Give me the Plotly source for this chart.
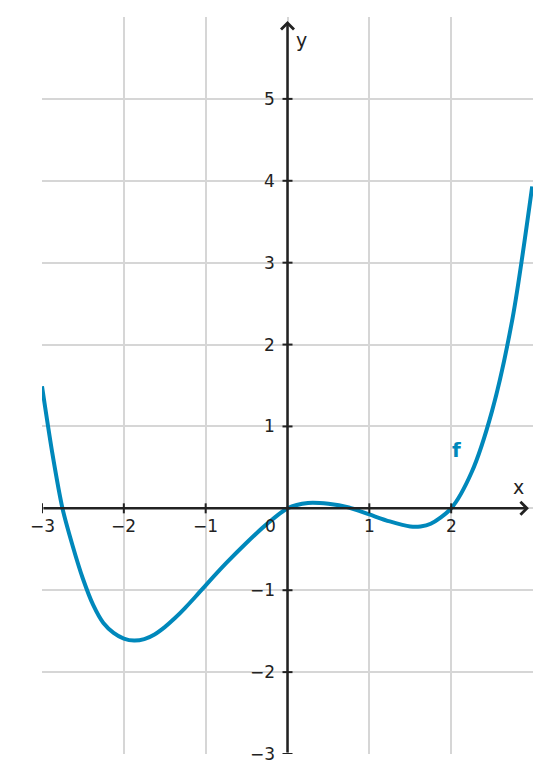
import plotly.graph_objects as go

# curve f
fx = [-3.0, -2.875, -2.75, -2.625, -2.5, -2.375, -2.25, -2.125, -2.0, -1.875, -1.75, -1.625, -1.5, -1.375,
      -1.25, -1.125, -1.0, -0.75, -0.5, -0.25, 0.0, 0.25, 0.5, 0.75, 1.0, 1.25, 1.5, 1.625, 1.75, 2.0,
      2.25, 2.5, 2.75, 2.99]
fy = [1.49, 0.68, 0.0, -0.46, -0.86, -1.18, -1.40, -1.52, -1.59, -1.615, -1.597, -1.54, -1.45, -1.34,
      -1.215, -1.08, -0.94, -0.67, -0.42, -0.19, 0.0, 0.065, 0.055, 0.01, -0.075, -0.16, -0.222, -0.222, -0.188, 0.0,
      0.44, 1.19, 2.32, 3.93]

x_ticks = [-3, -2, -1, 1, 2]
x_tick_labels = ["−3", "−2", "−1", "1", "2"]
y_ticks = [-3, -2, -1, 1, 2, 3, 4, 5]
y_tick_labels = ["−3", "−2", "−1", "1", "2", "3", "4", "5"]

AX = "#222222"
BLUE = "#0088bb"
FONT = "DejaVu Sans"

fig = go.Figure()
fig.add_trace(go.Scatter(x=fx, y=fy, mode="lines",
                         line=dict(color=BLUE, width=4, shape="spline", smoothing=0.8),
                         hoverinfo="skip", showlegend=False))

shapes = []
annotations = []

# axes with arrows
annotations.append(dict(x=2.95, y=0, ax=-3, ay=0, xref="x", yref="y", axref="x", ayref="y",
                        text="", showarrow=True, arrowhead=4, arrowsize=1.0, arrowwidth=2.5,
                        arrowcolor=AX, standoff=0, startstandoff=0))
annotations.append(dict(x=0, y=5.95, ax=0, ay=-3, xref="x", yref="y", axref="x", ayref="y",
                        text="", showarrow=True, arrowhead=4, arrowsize=1.0, arrowwidth=2.5,
                        arrowcolor=AX, standoff=0, startstandoff=0))

# ticks and labels
for t, lab in zip(x_ticks, x_tick_labels):
    shapes.append(dict(type="line", xref="x", yref="y", ysizemode="pixel", yanchor=0,
                       x0=t, x1=t, y0=-5, y1=5, line=dict(color=AX, width=2)))
    annotations.append(dict(x=t, y=0, xref="x", yref="y", text=lab, showarrow=False,
                            yshift=-18, font=dict(family=FONT, size=17, color=AX)))
for t, lab in zip(y_ticks, y_tick_labels):
    shapes.append(dict(type="line", xref="x", yref="y", xsizemode="pixel", xanchor=0,
                       x0=-5, x1=5, y0=t, y1=t, line=dict(color=AX, width=2)))
    annotations.append(dict(x=0, y=t, xref="x", yref="y", text=lab, showarrow=False,
                            xanchor="right", xshift=-11, font=dict(family=FONT, size=17, color=AX)))

annotations.append(dict(x=0, y=0, xref="x", yref="y", text="0", showarrow=False,
                        xshift=-17, yshift=-18, font=dict(family=FONT, size=17, color=AX)))
annotations.append(dict(x=2.82, y=0, xref="x", yref="y", text="x", showarrow=False,
                        yshift=21, font=dict(family=FONT, size=19, color=AX)))
annotations.append(dict(x=0, y=5.72, xref="x", yref="y", text="y", showarrow=False,
                        xshift=14, font=dict(family=FONT, size=19, color=AX)))
annotations.append(dict(x=2.07, y=0.71, xref="x", yref="y", text="<b>f</b>", showarrow=False,
                        font=dict(family=FONT, size=20, color=BLUE)))

fig.update_layout(
    width=551, height=783,
    margin=dict(l=34, r=26, t=9, b=37),
    paper_bgcolor="white", plot_bgcolor="white",
    shapes=shapes, annotations=annotations,
    xaxis=dict(range=[-3, 3], dtick=1, tick0=-3, showgrid=True, gridcolor="#d6d6d6", gridwidth=1.5,
               zeroline=False, showticklabels=False, showline=False, ticks=""),
    yaxis=dict(range=[-3, 6], dtick=1, tick0=-3, showgrid=True, gridcolor="#d6d6d6", gridwidth=1.5,
               zeroline=False, showticklabels=False, showline=False, ticks=""),
    font=dict(family=FONT),
)

fig.write_html("out.html")
